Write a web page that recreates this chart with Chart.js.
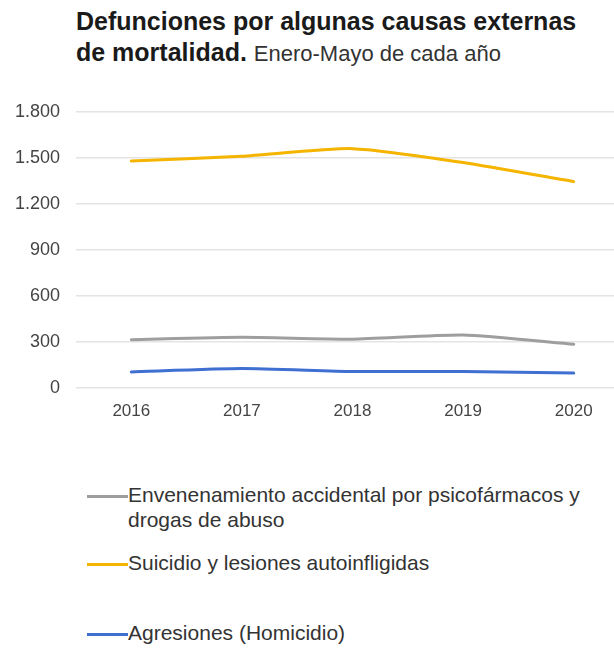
<!DOCTYPE html>
<html>
<head>
<meta charset="utf-8">
<script src="https://cdn.jsdelivr.net/npm/chart.js@4/dist/chart.umd.min.js"></script>
<style>
  html, body { margin: 0; padding: 0; background: #fff; overflow: hidden; width: 614px; height: 649px; }
  body { position: relative; font-family: "Liberation Sans", Arial, sans-serif; }
  #title { position: absolute; left: 76px; top: 6px; color: #1a1a1a; font-size: 25px; font-weight: bold; line-height: 31px; }
  #title span { font-weight: normal; color: #333; font-size: 22px; }
  #wrap { position: absolute; left: 0; top: 85px; width: 629px; height: 338px; }
  #legend { position: absolute; left: 87px; top: 480px; width: 527px; }
  .item { position: absolute; left: 0; display: flex; align-items: flex-start; white-space: nowrap; }
  .item i { display: block; width: 41px; height: 3px; margin-top: 13px; }
  .item div { font-size: 21px; line-height: 25px; color: #333; }
</style>
</head>
<body>
<div id="title">Defunciones por algunas causas externas<br>de mortalidad. <span>Enero-Mayo de cada año</span></div>
<div id="wrap"><canvas id="lineChart"></canvas></div>
<div id="legend"></div>
<script>
// data
var years = ["2016", "2017", "2018", "2019", "2020"];
var envenenamiento = [315, 330, 318, 345, 285];
var suicidio = [1480, 1510, 1560, 1470, 1345];
var agresiones = [105, 127, 107, 108, 97];

var seriesNames = [
  ["Envenenamiento accidental por psicofármacos y", "drogas de abuso"],
  ["Suicidio y lesiones autoinfligidas"],
  ["Agresiones (Homicidio)"]
];
var seriesColors = ["#9e9e9e", "#f4b400", "#3f6fd1"];
var legendTops = [2, 70, 140];

function miles(v) {
  return String(v).replace(/\B(?=(\d{3})+(?!\d))/g, ".");
}

var ctx = document.getElementById("lineChart").getContext('2d');
var myLineChart = new Chart(ctx, {
  type: 'line',
  data: {
    labels: years,
    datasets: [
      { label: seriesNames[0].join(" "), data: envenenamiento, borderColor: seriesColors[0] },
      { label: seriesNames[1].join(" "), data: suicidio, borderColor: seriesColors[1] },
      { label: seriesNames[2].join(" "), data: agresiones, borderColor: seriesColors[2] }
    ]
  },
  options: {
    responsive: true,
    maintainAspectRatio: false,
    animation: false,
    layout: { padding: { top: 10, right: 0, bottom: 0, left: 0 } },
    elements: {
      line: { borderWidth: 3, tension: 0.2, borderCapStyle: 'round' },
      point: { radius: 0 }
    },
    plugins: {
      legend: { display: false },
      title: { display: false },
      tooltip: { enabled: false }
    },
    scales: {
      x: {
        offset: true,
        grid: { display: false, drawTicks: false },
        border: { display: false },
        ticks: { color: '#444', font: { family: 'Liberation Sans', size: 17 }, padding: 13, maxRotation: 0 },
        afterFit: function (axis) { axis.height = 35; }
      },
      y: {
        min: 0,
        max: 1800,
        ticks: {
          stepSize: 300,
          color: '#444',
          padding: 16,
          font: { family: 'Liberation Sans', size: 18 },
          callback: function (value) { return miles(value); }
        },
        grid: { color: '#e4e4e4', lineWidth: 1.5, drawTicks: false },
        border: { display: false },
        afterFit: function (axis) { axis.width = 76; }
      }
    }
  }
});

// legend drawn as html text so the two-line label wraps like the original
var legend = document.getElementById("legend");
myLineChart.data.datasets.forEach(function (ds, i) {
  var item = document.createElement("div");
  item.className = "item";
  item.style.top = legendTops[i] + "px";
  item.innerHTML = '<i style="background:' + ds.borderColor + '"></i><div>' + seriesNames[i].join("<br>") + '</div>';
  legend.appendChild(item);
});
</script>
</body>
</html>
